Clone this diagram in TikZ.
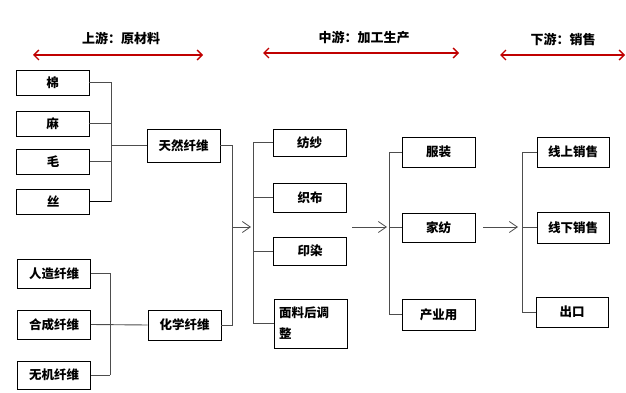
\documentclass[tikz,border=0pt]{standalone}
\usepackage{fontspec}
\setmainfont{Noto Sans CJK SC}
\usetikzlibrary{arrows.meta}
\definecolor{hdred}{HTML}{C00000}
\definecolor{lnk}{HTML}{4D4D4D}
\tikzset{
  box/.style={draw=black, line width=0.9pt, minimum width=73pt, minimum height=28pt, inner sep=0pt, font=\fontsize{12.5}{14}\selectfont\bfseries},
  conn/.style={draw=lnk, line width=0.9pt},
  flow/.style={draw=lnk, line width=0.8pt, -{Straight Barb[length=8pt,width=11pt,line width=0.8pt]}},
  hdarrow/.style={draw=hdred, line width=1.3pt, {Straight Barb[length=5pt,width=10pt]}-{Straight Barb[length=5pt,width=10pt]}},
  hdtext/.style={font=\fontsize{13}{15}\selectfont\bfseries, inner sep=0pt}
}
\begin{document}
\begin{tikzpicture}[x=1pt,y=-1pt]
\useasboundingbox (0,0) rectangle (626,393);
% headers
\node[hdtext] (h1) at (121,38) {上游：原材料};
\coordinate (h1l) at (33,55); \coordinate (h1r) at (203,55);
\draw[hdarrow] (h1l) -- (h1r);
\node[hdtext] (h2) at (364,38) {中游：加工生产};
\coordinate (h2l) at (263,53); \coordinate (h2r) at (459,53);
\draw[hdarrow] (h2l) -- (h2r);
\node[hdtext] (h3) at (563,39) {下游：销售};
\coordinate (h3l) at (500,55); \coordinate (h3r) at (625,55);
\draw[hdarrow] (h3l) -- (h3r);
% upstream left column
\node[box, minimum height=25pt] (mian) at (52.5,82.5) {棉};
\node[box, minimum height=25pt] (ma) at (52.5,123.5) {麻};
\node[box, minimum height=25pt] (mao) at (53,161.5) {毛};
\node[box, minimum height=25pt] (si) at (53,201.5) {丝};
\node[box, minimum height=29pt] (rz) at (54,273.5) {人造纤维};
\node[box, minimum height=29pt] (hc) at (54,324.5) {合成纤维};
\node[box, minimum height=28pt] (wj) at (54,375) {无机纤维};
\node[box, minimum height=33pt] (tr) at (183.5,145.5) {天然纤维};
\node[box, minimum height=30pt] (hx) at (184.5,325) {化学纤维};
% midstream
\node[box, minimum height=27pt] (fs) at (309.5,142.5) {纺纱};
\node[box, minimum height=29pt] (zb) at (310,197.5) {织布};
\node[box, minimum height=28pt] (yr) at (310,251) {印染};
\node[box, minimum height=49pt, align=left, text width=64pt, font=\fontsize{12.5}{21}\selectfont\bfseries] (ml) at (311,323.5) {面料后调\\整};
% products
\node[box, minimum height=30pt] (fz) at (438.5,152) {服装};
\node[box, minimum height=29pt] (jf) at (438.5,227.5) {家纺};
\node[box, minimum height=31pt] (cy) at (438.5,314.5) {产业用};
% downstream
\node[box, minimum height=30pt, minimum width=72pt] (xs) at (573,152) {线上销售};
\node[box, minimum height=31pt, minimum width=72pt] (xx) at (573,227.5) {线下销售};
\node[box, minimum height=30pt, minimum width=72pt] (ck) at (572,312) {出口};
% bus coordinates
\coordinate (b1) at (111,0);
\coordinate (b2) at (110,0);
\coordinate (b3) at (232,0);
\coordinate (b4) at (253,0);
\coordinate (b5) at (389,0);
\coordinate (b6) at (522,0);
% natural fibre bus
\draw[conn] (mian.east) -- (mian.east -| b1) -- (si.east -| b1);
\draw[conn] (ma.east) -- (ma.east -| b1);
\draw[conn] (mao.east) -- (mao.east -| b1);
\draw[draw=black, line width=1.5pt] (si.east) -- (si.east -| b1);
\draw[conn] (tr.west -| b1) -- (tr.west);
% chemical fibre bus
\draw[conn] (rz.east) -- (rz.east -| b2) -- (wj.east -| b2);
\draw[conn] (hc.east) -- (hx.west);
\draw[conn] (wj.east) -- (wj.east -| b2);
% merge to midstream
\draw[conn] (tr.east) -- (tr.east -| b3) -- (hx.east -| b3) -- (hx.east);
\coordinate (a1s) at (232,227);
\coordinate (a1e) at (251,227);
\draw[flow] (a1s) -- (a1e);
\draw[conn] (fs.west) -- (fs.west -| b4) -- (ml.west -| b4) -- (ml.west);
\draw[conn] (zb.west) -- (zb.west -| b4);
\draw[conn] (yr.west) -- (yr.west -| b4);
% midstream to products
\coordinate (a2s) at (352,227);
\coordinate (a2e) at (387,227);
\draw[flow] (a2s) -- (a2e);
\draw[conn] (fz.west) -- (fz.west -| b5) -- (cy.west -| b5) -- (cy.west);
\draw[conn] (jf.west) -- (jf.west -| b5);
% products to downstream
\coordinate (a3s) at (483,227);
\coordinate (a3e) at (518,227);
\draw[flow] (a3s) -- (a3e);
\draw[conn] (xs.west) -- (xs.west -| b6) -- (ck.west -| b6) -- (ck.west);
\draw[conn] (xx.west) -- (xx.west -| b6);
\end{tikzpicture}
\end{document}
